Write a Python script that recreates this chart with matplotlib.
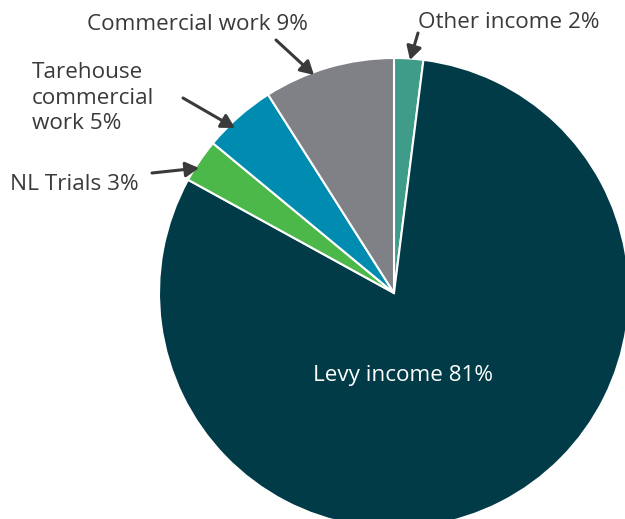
import matplotlib.pyplot as plt

labels = ['Other income', 'Levy income', 'NL Trials', 'Tarehouse\ncommercial\nwork', 'Commercial work']
shares = [2, 81, 3, 5, 9]
colors = ['#3f9c88', '#003b47', '#4cb84a', '#008bb0', '#808186']

plt.rcParams['font.family'] = ['Open Sans', 'DejaVu Sans']

H = 519
fig = plt.figure(figsize=(6.25, 5.19), dpi=100)
ax = fig.add_axes([0, 0, 1, 1])

ax.pie(shares, colors=colors, startangle=90, counterclock=False,
       center=(394, H - 293), radius=235, frame=True,
       wedgeprops=dict(edgecolor='white', linewidth=1.5))
ax.set_xlim(0, 625)
ax.set_ylim(0, H)
ax.set_aspect('equal')
ax.axis('off')

txt = '#3a3a3a'
fs = 16.2
# callouts: text, text position (pixels), ha, arrow start, arrow end
callouts = [
    (f'{labels[0]} {shares[0]}%', (418, 22), 'left', (418, 33), (410, 60)),
    (f'{labels[4]} {shares[4]}%', (87, 25), 'left', (276, 40), (314, 75)),
    (f'{labels[3]} {shares[3]}%', (32, 98), 'left', (183, 98), (235, 128)),
    (f'{labels[2]} {shares[2]}%', (10, 185), 'left', (152, 173), (199, 168)),
]
for t, (tx, ty), ha, (x0, y0), (x1, y1) in callouts:
    ax.text(tx, H - ty, t, ha=ha, va='center', fontsize=fs, color=txt, linespacing=1.27)
    ax.annotate('', xy=(x1, H - y1), xytext=(x0, H - y0),
                arrowprops=dict(arrowstyle='-|>,head_length=0.8,head_width=0.45',
                                color=txt, lw=2.2, shrinkA=0, shrinkB=0))

ax.text(403, H - 375, f'{labels[1]} {shares[1]}%', ha='center', va='center',
        fontsize=fs, color='white')

fig.savefig('out.png', dpi=100)
